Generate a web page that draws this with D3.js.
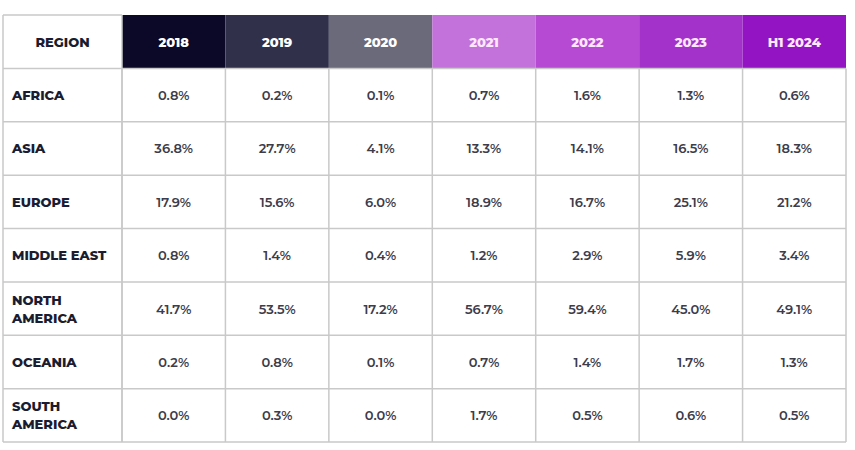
<!DOCTYPE html>
<html><head><meta charset="utf-8">
<script src="https://cdn.jsdelivr.net/npm/d3@7"></script>
<style>body{margin:0;background:#fff;}svg{display:block;}</style>
</head><body>
<script>
const regions = ["AFRICA","ASIA","EUROPE","MIDDLE EAST","NORTH AMERICA","OCEANIA","SOUTH AMERICA"];
const regionLines = [["AFRICA"],["ASIA"],["EUROPE"],["MIDDLE EAST"],["NORTH","AMERICA"],["OCEANIA"],["SOUTH","AMERICA"]];
const periods = ["2018","2019","2020","2021","2022","2023","H1 2024"];
const headerColors = ["#0b0828","#30304a","#6a6a7a","#c272da","#b64ad2","#a232ca","#9214c2"];
const v2018 = ["0.8%","36.8%","17.9%","0.8%","41.7%","0.2%","0.0%"];
const v2019 = ["0.2%","27.7%","15.6%","1.4%","53.5%","0.8%","0.3%"];
const v2020 = ["0.1%","4.1%","6.0%","0.4%","17.2%","0.1%","0.0%"];
const v2021 = ["0.7%","13.3%","18.9%","1.2%","56.7%","0.7%","1.7%"];
const v2022 = ["1.6%","14.1%","16.7%","2.9%","59.4%","1.4%","0.5%"];
const v2023 = ["1.3%","16.5%","25.1%","5.9%","45.0%","1.7%","0.6%"];
const vH1 = ["0.6%","18.3%","21.2%","3.4%","49.1%","1.3%","0.5%"];
const cols = [v2018,v2019,v2020,v2021,v2022,v2023,vH1];

(function(){
const W=855,H=450;
const svg=d3.select("body").append("svg").attr("width",W).attr("height",H);
const left=3,right=846,topY=15,bottom=442,regW=119;
const x=d3.scaleBand().domain(periods).range([left+regW,right]);
const rowsAll=["HEADER",...regions];
const y=d3.scaleBand().domain(rowsAll).range([topY,bottom]);
const font="Montserrat, 'Open Sans', 'DejaVu Sans', sans-serif";
const fs=13, dy=5;

svg.selectAll("rect.h").data(periods).join("rect")
 .attr("x",d=>x(d)).attr("y",y("HEADER")).attr("width",x.bandwidth()).attr("height",y.bandwidth())
 .attr("fill",(d,i)=>headerColors[i]);
svg.selectAll("text.h").data(periods).join("text")
 .attr("x",d=>x(d)+x.bandwidth()/2).attr("y",y("HEADER")+y.bandwidth()/2+dy)
 .attr("text-anchor","middle").attr("fill",(d,i)=>i>=3?"#fbe8fb":"#ffffff")
 .attr("font-family",font).attr("font-weight",800).attr("font-size",fs).text(d=>d);
svg.append("text").attr("x",left+regW/2).attr("y",y("HEADER")+y.bandwidth()/2+dy)
 .attr("text-anchor","middle").attr("fill","#1c1c30").attr("font-family",font)
 .attr("font-weight",800).attr("font-size",fs).text("REGION");

const g=svg.append("g").attr("stroke","#c9c9c9").attr("stroke-width",1.5).attr("fill","none");
g.selectAll("line.r").data(rowsAll.slice(1)).join("line")
 .attr("x1",left).attr("x2",right).attr("y1",d=>y(d)).attr("y2",d=>y(d));
g.append("line").attr("x1",left).attr("x2",right).attr("y1",bottom).attr("y2",bottom);
g.append("line").attr("x1",left).attr("x2",left+regW).attr("y1",topY).attr("y2",topY);
g.append("line").attr("x1",left).attr("x2",left).attr("y1",topY).attr("y2",bottom);
g.selectAll("line.c").data(periods).join("line")
 .attr("x1",d=>x(d)).attr("x2",d=>x(d)).attr("y1",y(regions[0])).attr("y2",bottom);
g.append("line").attr("x1",right).attr("x2",right).attr("y1",y(regions[0])).attr("y2",bottom);
g.append("line").attr("x1",left+regW).attr("x2",left+regW).attr("y1",topY).attr("y2",bottom);

regions.forEach((r,i)=>{
  const lines=regionLines[i];
  const cy=y(r)+y.bandwidth()/2;
  const t=svg.append("text").attr("fill","#1c1c30").attr("font-family",font)
   .attr("font-weight",800).attr("font-size",fs);
  lines.forEach((ln,j)=>{
    t.append("tspan").attr("x",12).attr("y",cy+dy+(j-(lines.length-1)/2)*18).text(ln);
  });
});

cols.forEach((col,ci)=>{
  svg.selectAll(null).data(col).join("text")
   .attr("x",x(periods[ci])+x.bandwidth()/2)
   .attr("y",(d,i)=>y(regions[i])+y.bandwidth()/2+dy)
   .attr("text-anchor","middle").attr("fill","#3c3c4a").attr("font-family",font)
   .attr("font-weight",600).attr("font-size",fs).text(d=>d);
});
})();
</script>
</body></html>
